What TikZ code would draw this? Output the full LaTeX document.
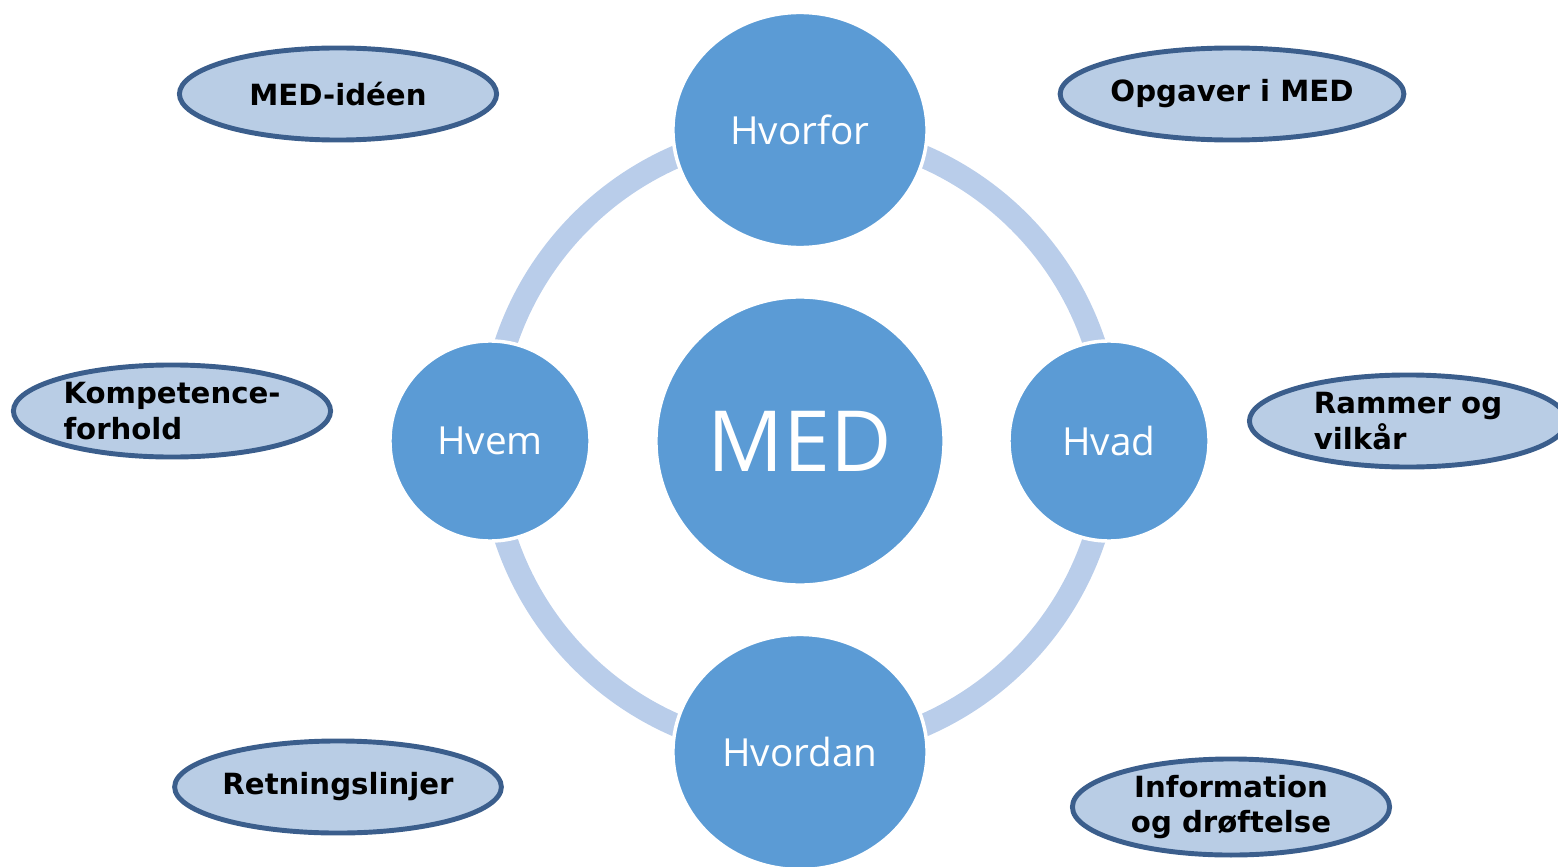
\documentclass[tikz,border=0pt]{standalone}
\usepackage{fontspec}
\setmainfont{DejaVu Sans}
\newfontfamily\hubfont{Open Sans}
\usetikzlibrary{shapes.geometric}

\definecolor{medblue}{HTML}{5B9BD5}
\definecolor{ringblue}{HTML}{B9CDEA}
\definecolor{tagfill}{HTML}{B9CDE5}
\definecolor{tagline}{HTML}{3B5E8C}

\begin{document}
\begin{tikzpicture}[x=0.01cm, y=-0.01cm,
        hub/.style={circle, fill=medblue, draw=white, line width=1pt, text=white, inner sep=0pt},
        bighub/.style={hub, ellipse, minimum width=2.54cm, minimum height=2.35cm, font=\hubfont\fontsize{11}{13}\selectfont},
        smallhub/.style={hub, minimum size=2cm, font=\hubfont\fontsize{11}{13}\selectfont},
        tag/.style={ellipse, fill=tagfill, draw=tagline, line width=1.4pt, minimum width=3.17cm, minimum height=0.92cm,
            inner sep=0pt, font=\bfseries\fontsize{8.3}{10}\selectfont}]
    % Frame
    \useasboundingbox (0, 0) rectangle (1558, 867);
    \clip (0, 0) rectangle (1558, 867);

    % Ring behind the circles
    \draw[ringblue, line width=6.5pt] (800, 441) circle[radius=310];

    % Centre and the four questions
    \node[hub, minimum size=2.88cm, font=\hubfont\fontsize{24}{28}\selectfont] (med) at (800, 441) {MED};
    \node[bighub] (hvorfor) at (800, 130) {Hvorfor};
    \node[bighub] (hvordan) at (800, 752) {Hvordan};
    \node[smallhub] (hvem) at (490, 441) {Hvem};
    \node[smallhub] (hvad) at (1109, 441) {Hvad};

    % Topics
    \node[tag] (idee) at (338, 94) {MED-idéen};
    \node[tag] (opgaver) at (1232, 94) {Opgaver i MED};
    \node[tag, align=left] (kompetence) at (172, 411) {Kompetence-\\forhold};
    \node[tag, align=left] (rammer) at (1408, 421) {Rammer og\\vilkår};
    \node[tag] (retning) at (338, 787) {Retningslinjer};
    \node[tag, align=center, minimum height=0.96cm] (info) at (1231, 807) {Information\\og drøftelse};
\end{tikzpicture}
\end{document}
